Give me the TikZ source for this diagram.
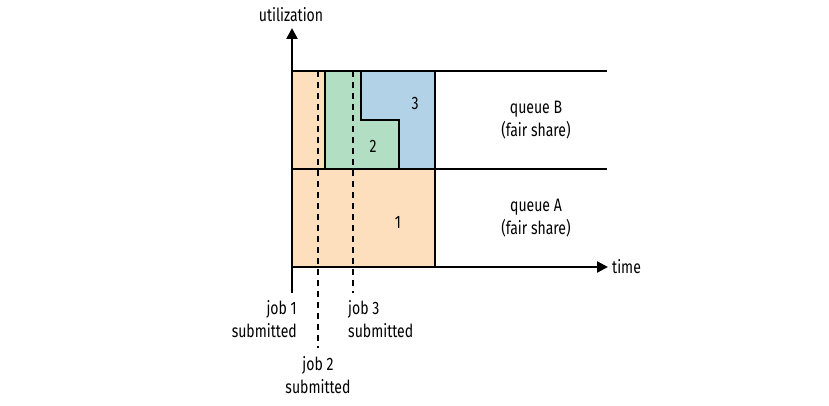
\documentclass[tikz,border=0pt]{standalone}
\usepackage{fontspec}
\setmainfont{Fira Sans}[FakeStretch=0.78]
\usetikzlibrary{arrows.meta, positioning}
\definecolor{jobone}{RGB}{253,222,189}
\definecolor{jobtwo}{RGB}{178,222,196}
\definecolor{jobthree}{RGB}{178,210,232}

\begin{document}
\begin{tikzpicture}[x=1pt, y=-1pt,
    every node/.style={font=\fontsize{18}{22.5}\selectfont, align=center, inner sep=0pt},
    axis/.style={line width=2.4pt, -{Triangle[length=11pt, width=11pt]}},
    edge/.style={line width=2pt},
    submit/.style={line width=2pt, dash pattern=on 6pt off 5pt}]
    \useasboundingbox (0,0) rectangle (829,406);
    % job areas
    \fill[jobone] (292,71) rectangle (435,267);
    \fill[jobtwo] (325,71) -- (361,71) -- (361,120) -- (399,120) -- (399,169) -- (325,169) -- cycle;
    \fill[jobthree] (361,71) -- (435,71) -- (435,169) -- (399,169) -- (399,120) -- (361,120) -- cycle;
    % queue borders
    \draw[edge] (292,71) -- (607,71);
    \draw[edge] (292,169) -- (607,169);
    \draw[edge] (435,71) -- (435,267);
    \draw[edge] (325,71) -- (325,169);
    \draw[edge] (361,71) -- (361,120) -- (399,120) -- (399,169);
    % axes
    \coordinate (o) at (292,293);
    \coordinate (ytip) at (292,28);
    \coordinate (xo) at (292,267);
    \coordinate (xtip) at (608,267);
    \draw[axis] (o) -- (ytip);
    \draw[axis] (xo) -- (xtip);
    \node (util) at (291,15) {utilization};
    \node[anchor=west] (time) at (612,267) {time};
    % submission times
    \coordinate (s2a) at (318,71);
    \coordinate (s2b) at (318,348);
    \coordinate (s3a) at (353,71);
    \coordinate (s3b) at (353,293);
    \draw[submit] (s2a) -- (s2b);
    \draw[submit] (s3a) -- (s3b);
    \node[anchor=east, align=right] (j1) at (297,319) {job 1\\submitted};
    \node (j2) at (318,375) {job 2\\submitted};
    \node[anchor=west, align=left] (j3) at (348,319) {job 3\\submitted};
    % labels
    \node (n1) at (398,222) {1};
    \node (n2) at (373,146) {2};
    \node (n3) at (415,103) {3};
    \node (qB) at (536,120) {queue B\\(fair share)};
    \node (qA) at (536,218) {queue A\\(fair share)};
\end{tikzpicture}
\end{document}
